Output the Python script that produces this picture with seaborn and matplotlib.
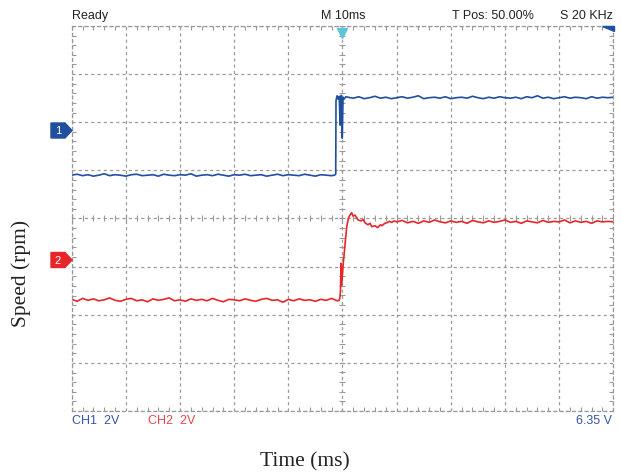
import matplotlib.pyplot as plt
import numpy as np
import pandas as pd
import seaborn as sns
from matplotlib.patches import Polygon
from matplotlib.ticker import MultipleLocator, NullFormatter

# --- data (time in ms, level in screen divisions) ---
BLUE_LOW_T = list(range(-50, -1))
BLUE_LOW_V = [
    0.90, 0.92, 0.89, 0.91, 0.88, 0.90, 0.93, 0.89, 0.91, 0.90,
    0.88, 0.91, 0.92, 0.89, 0.90, 0.91, 0.88, 0.92, 0.90, 0.89,
    0.91, 0.90, 0.93, 0.88, 0.90, 0.91, 0.89, 0.92, 0.90, 0.88,
    0.91, 0.90, 0.92, 0.89, 0.90, 0.91, 0.88, 0.90, 0.92, 0.89,
    0.91, 0.90, 0.89, 0.92, 0.90, 0.88, 0.91, 0.90, 0.89,
]
BLUE_STEP_T = [-1.5, -1.25, -1.2, -1.0, -0.8, -0.6, -0.45, -0.35, -0.2, -0.05, 0.1, 0.3, 0.6]
BLUE_STEP_V = [0.90, 0.92, 2.45, 2.55, 2.48, 2.54, 1.94, 2.50, 2.56, 1.67, 2.52, 2.48, 2.53]
BLUE_HIGH_T = list(range(1, 51))
BLUE_HIGH_V = [
    2.52, 2.50, 2.53, 2.49, 2.51, 2.54, 2.50, 2.52, 2.49, 2.51,
    2.53, 2.50, 2.52, 2.55, 2.49, 2.51, 2.52, 2.50, 2.53, 2.49,
    2.51, 2.52, 2.50, 2.54, 2.51, 2.49, 2.52, 2.50, 2.53, 2.51,
    2.50, 2.52, 2.49, 2.53, 2.51, 2.55, 2.50, 2.52, 2.49, 2.51,
    2.53, 2.50, 2.52, 2.51, 2.49, 2.53, 2.50, 2.52, 2.51, 2.52,
]

RED_LOW_T = list(range(-50, 0))
RED_LOW_V = [
    -1.68, -1.72, -1.66, -1.70, -1.67, -1.71, -1.69, -1.65, -1.70, -1.72,
    -1.68, -1.66, -1.71, -1.69, -1.73, -1.67, -1.70, -1.68, -1.65, -1.71,
    -1.69, -1.72, -1.67, -1.70, -1.68, -1.71, -1.66, -1.70, -1.73, -1.68,
    -1.69, -1.71, -1.67, -1.70, -1.72, -1.68, -1.66, -1.70, -1.69, -1.74,
    -1.68, -1.71, -1.67, -1.70, -1.69, -1.72, -1.68, -1.70, -1.66, -1.71,
]
RED_STEP_T = [-0.6, -0.45, -0.37, -0.28, -0.2, 0.0, 0.15, 0.46, 0.77, 1.1, 1.38, 1.7,
              1.94, 2.3, 2.6, 2.86, 3.4, 3.8, 4.15, 4.7, 5.1, 5.4, 6.0, 6.5, 7.0,
              7.3, 7.8, 8.2, 8.6, 9.1, 9.5]
RED_STEP_V = [-1.70, -1.62, -1.48, -0.93, -1.38, -1.15, -0.92, -0.55, -0.18, 0.01, 0.07, 0.12,
              0.05, 0.07, 0.02, -0.03, -0.05, -0.02, -0.09, -0.13, -0.10, -0.17, -0.15, -0.19, -0.13,
              -0.15, -0.10, -0.09, -0.06, -0.08, -0.05]
RED_HIGH_T = list(range(10, 51))
RED_HIGH_V = [
    -0.07, -0.04, -0.09, -0.06, -0.10, -0.05, -0.08, -0.03, -0.07, -0.09,
    -0.05, -0.08, -0.06, -0.10, -0.04, -0.07, -0.09, -0.05, -0.08, -0.06,
    -0.03, -0.08, -0.06, -0.10, -0.05, -0.07, -0.09, -0.04, -0.08, -0.06,
    -0.07, -0.03, -0.09, -0.05, -0.08, -0.06, -0.10, -0.05, -0.07, -0.06,
    -0.07,
]

# --- style ---
W, H = 621, 473
BLUE = "#1f4f9e"
RED = "#e8262a"
BLUE_TXT = "#3557a6"
RED_TXT = "#e8464a"
GRID = "#9a9a9a"
DASH = (0, (2.5, 2.5))

sns.set_theme(style="white")
plt.rcParams["font.family"] = ["Liberation Sans", "DejaVu Sans"]


def fx(x, y):
    # pixel position -> figure fraction
    return x / W, 1 - y / H


blue = pd.DataFrame({
    "t": BLUE_LOW_T + BLUE_STEP_T + BLUE_HIGH_T,
    "v": BLUE_LOW_V + BLUE_STEP_V + BLUE_HIGH_V,
})
red = pd.DataFrame({
    "t": RED_LOW_T + RED_STEP_T + RED_HIGH_T,
    "v": RED_LOW_V + RED_STEP_V + RED_HIGH_V,
})

fig = plt.figure(figsize=(W / 100, H / 100), dpi=100)
x0, y1 = fx(71.7, 26)
x1, y0 = fx(613.3, 411)
ax = fig.add_axes([x0, y0, x1 - x0, y1 - y0])

sns.lineplot(data=blue, x="t", y="v", ax=ax, color=BLUE, lw=1.2,
             estimator=None, sort=False)
sns.lineplot(data=red, x="t", y="v", ax=ax, color=RED, lw=1.2,
             estimator=None, sort=False)

ax.set_xlim(-50, 50)
ax.set_ylim(-4, 4)
ax.xaxis.set_major_locator(MultipleLocator(10))
ax.yaxis.set_major_locator(MultipleLocator(1))
ax.xaxis.set_minor_locator(MultipleLocator(2))
ax.yaxis.set_minor_locator(MultipleLocator(0.2))
ax.xaxis.set_major_formatter(NullFormatter())
ax.yaxis.set_major_formatter(NullFormatter())
ax.tick_params(which="major", length=0)
ax.tick_params(which="minor", direction="in", length=3, width=0.8, color=GRID,
               bottom=True, top=True, left=True, right=True)
ax.set_xlabel("")
ax.set_ylabel("")
ax.grid(True, which="major", color=GRID, lw=0.9, linestyle=DASH)
for s in ax.spines.values():
    s.set_color(GRID)
    s.set_linewidth(0.9)
    s.set_linestyle(DASH)

# small ticks along the centre cross
ax.plot(np.arange(-50, 51, 2), np.zeros(51), ls="none", marker="|",
        ms=5, mew=0.8, color=GRID, zorder=1)
ax.plot(np.zeros(41), np.arange(-4, 4.01, 0.2), ls="none", marker="_",
        ms=5, mew=0.8, color=GRID, zorder=1)

# trigger marker and corner marker
ax.plot(0, 3.85, marker="v", ms=7, color="#5cc5d8", clip_on=False, zorder=5)
fig.add_artist(Polygon([fx(602, 26), fx(613.5, 26), fx(613.5, 31.5)],
                       closed=True, color=BLUE, transform=fig.transFigure))

# channel markers
for yc, col, lab in [(130.5, BLUE, "1"), (260, RED, "2")]:
    pts = [fx(51, yc - 7.5), fx(65, yc - 7.5), fx(72, yc), fx(65, yc + 7.5), fx(51, yc + 7.5)]
    fig.add_artist(Polygon(pts, closed=True, color=col, transform=fig.transFigure))
    fig.text(*fx(58, yc + 0.5), lab, color="white", fontsize=8, ha="center", va="center")

# scope status texts
fig.text(*fx(72, 16), "Ready", fontsize=9, color="#222222", va="center", ha="left")
fig.text(*fx(321, 16), "M 10ms", fontsize=9, color="#222222", va="center", ha="left")
fig.text(*fx(452, 16), "T Pos: 50.00%", fontsize=9, color="#222222", va="center", ha="left")
fig.text(*fx(612.5, 16), "S 20 KHz", fontsize=9, color="#222222", va="center", ha="right")
fig.text(*fx(72.5, 421), "CH1  2V", fontsize=9, color=BLUE_TXT, va="center", ha="left")
fig.text(*fx(148, 421), "CH2  2V", fontsize=9, color=RED_TXT, va="center", ha="left")
fig.text(*fx(611.5, 421), "6.35 V", fontsize=9, color=BLUE_TXT, va="center", ha="right")

# axis titles
fig.text(*fx(305, 462), "Time (ms)", fontsize=15.5, family="Liberation Serif",
         color="#222222", ha="center", va="center")
fig.text(*fx(21, 273), "Speed (rpm)", fontsize=15.5, family="Liberation Serif",
         color="#222222", ha="center", va="center", rotation=90)

fig.savefig("out.png", dpi=100)
